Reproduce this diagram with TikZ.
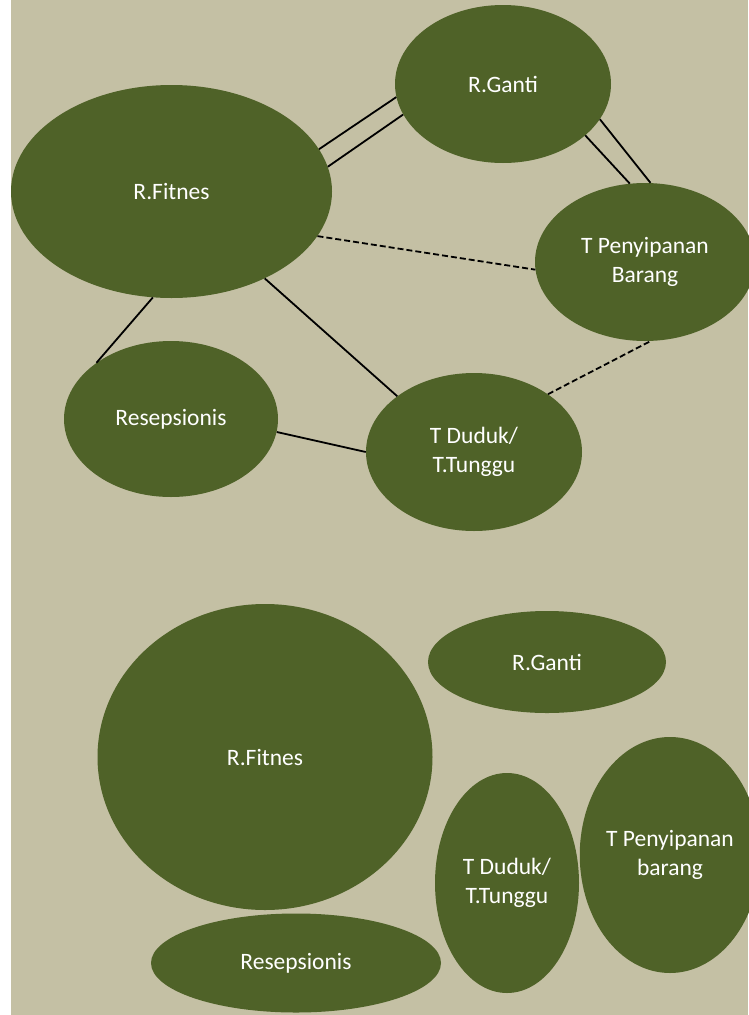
\documentclass[tikz,border=0pt]{standalone}
\usepackage{fontspec}
\setmainfont{Carlito}
\usetikzlibrary{shapes.geometric}
\definecolor{kain}{RGB}{196,192,164}
\definecolor{zaitun}{RGB}{79,98,40}
\tikzset{
x=1pt, y=-1pt, % work in pixel-like units, y pointing down
room/.style={ellipse, fill=zaitun, text=white, inner sep=0pt, align=center,
  font=\fontsize{23.5}{29.5}\selectfont}, % every room is a filled ellipse
link/.style={line width=1.8pt, black}, % plain connector
dlink/.style={link, dash pattern=on 6pt off 3pt}, % dashed connector
}

\begin{document}
\begin{tikzpicture}
\useasboundingbox (0,0) rectangle (748,1015);
\fill[kain] (11,0) rectangle (748,1015);

% relation diagram
\node[room, minimum width=321pt, minimum height=213pt] (fit1) at (171.5,191.5) {R.Fitnes};
\node[room, minimum width=216pt, minimum height=158pt] (ganti1) at (503,84) {R.Ganti};
\node[room, minimum width=220pt, minimum height=158pt] (simpan1) at (645,262) {T Penyipanan\\Barang};
\node[room, minimum width=214pt, minimum height=156pt] (resep1) at (171,419) {Resepsionis};
\node[room, minimum width=216pt, minimum height=158pt] (duduk1) at (474,452) {T Duduk/\\T.Tunggu};

\draw[link] (fit1.16) -- (ganti1.187);
\draw[link] (fit1.9) -- (ganti1.197);
\draw[link] (ganti1.328) -- (simpan1.101);
\draw[link] (ganti1.340) -- (simpan1.86);
\draw[dlink] (fit1.-17) -- (simpan1.184);
\draw[dlink] (duduk1.38) -- (simpan1.274);
\draw[link] (fit1.260) -- (resep1.143);
\draw[link] (fit1.317) -- (duduk1.144);
\draw[link] (resep1.-7) -- (duduk1.180);

% room sizes
\node[room, minimum width=335pt, minimum height=306pt] (fit2) at (265,757) {R.Fitnes};
\node[room, minimum width=238pt, minimum height=102pt] (ganti2) at (547,662) {R.Ganti};
\node[room, minimum width=180pt, minimum height=236pt] (simpan2) at (670,855) {T Penyipanan\\barang};
\node[room, minimum width=144pt, minimum height=220pt] (duduk2) at (507,883) {T Duduk/\\T.Tunggu};
\node[room, minimum width=290pt, minimum height=99pt] (resep2) at (296,963) {Resepsionis};
\end{tikzpicture}
\end{document}
